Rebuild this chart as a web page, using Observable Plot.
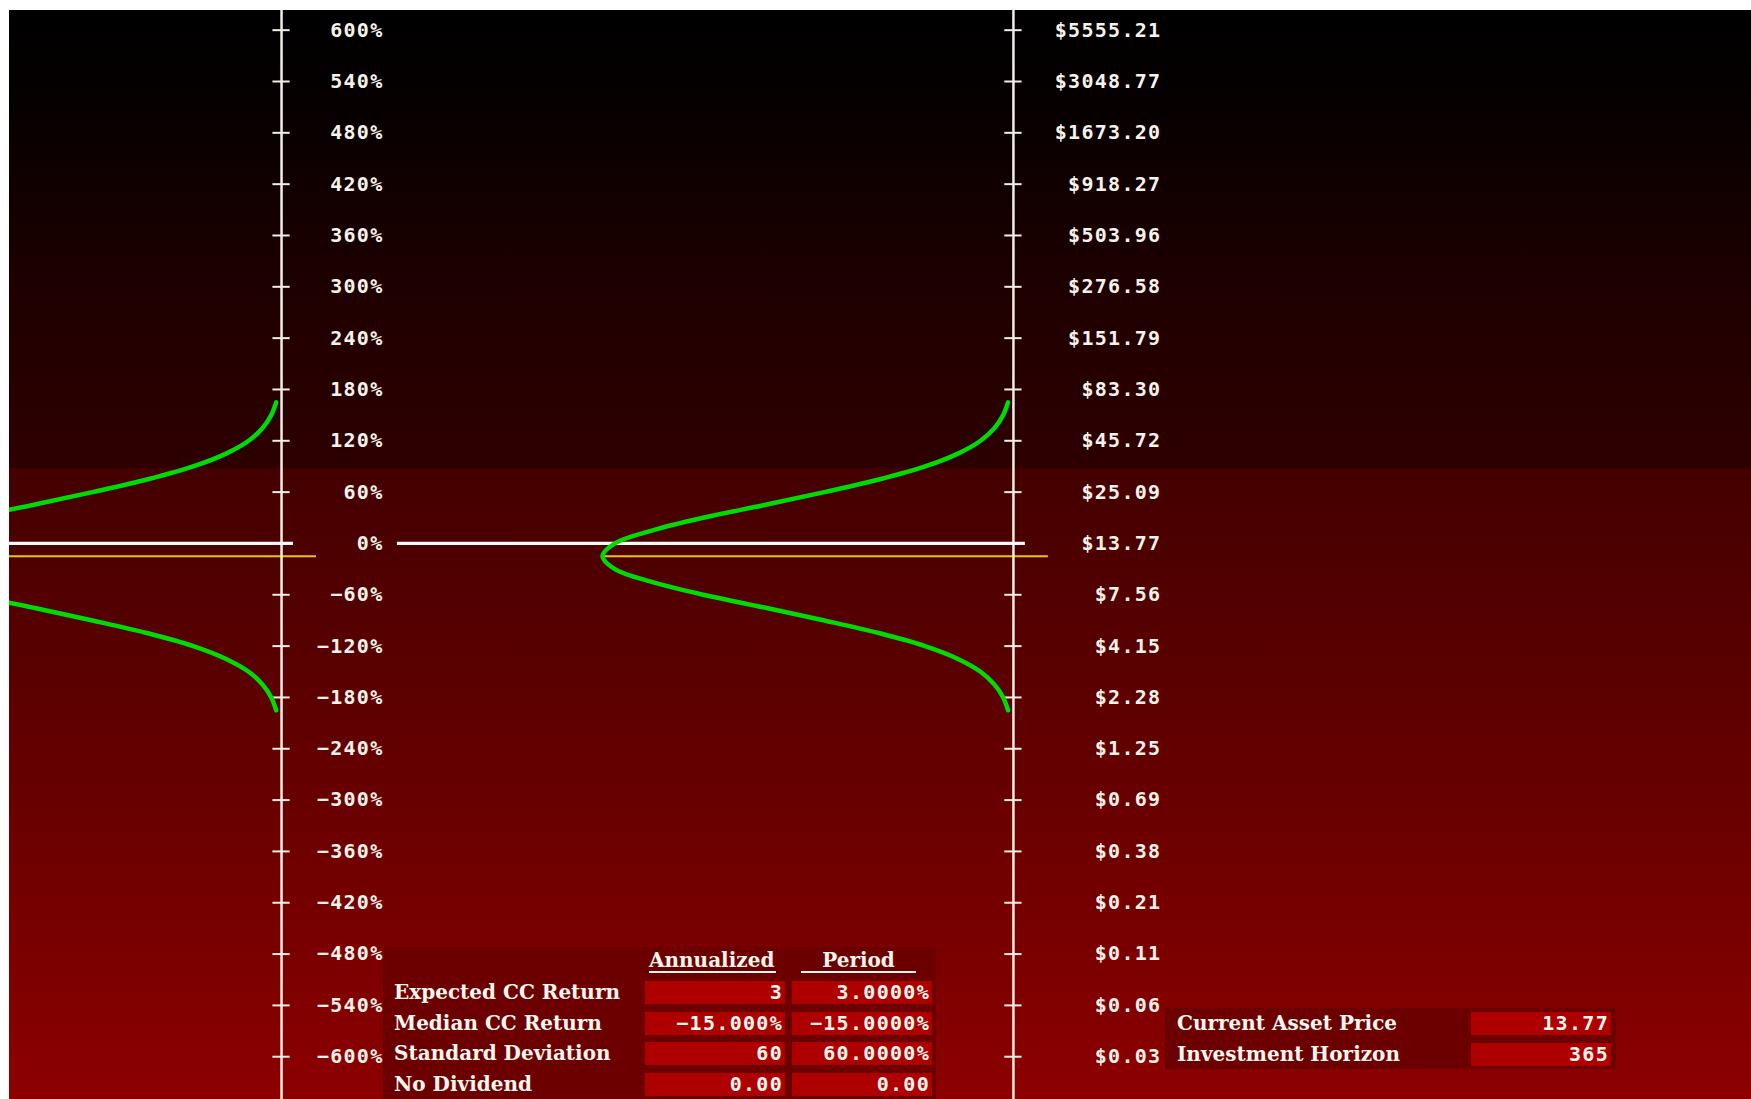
<!DOCTYPE html>
<html><head><meta charset="utf-8">
<script src="https://cdn.jsdelivr.net/npm/d3@7"></script>
<script src="https://cdn.jsdelivr.net/npm/@observablehq/plot@0.6"></script>
<style>
html, body { margin:0; padding:0; background:#fff; width:1751px; height:1099px; overflow:hidden; }
#chart { position:absolute; left:9px; top:10px; }
#chart svg text { letter-spacing:1.3px; }
.box { position:absolute; background:#6c0000; }
.lbl { position:absolute; font-family:"DejaVu Serif", serif; font-weight:bold; font-size:20px; color:#fbf6ee; line-height:24px; white-space:nowrap; }
.hdr { position:absolute; font-family:"DejaVu Serif", serif; font-weight:bold; font-size:20px; color:#fbf6ee; line-height:22px; height:22px; border-bottom:2px solid #fbf6ee; white-space:nowrap; }
.cell { position:absolute; background:#ae0000; height:23px; width:140px; font-family:"DejaVu Sans Mono", monospace; font-weight:bold; font-size:20px; letter-spacing:1.3px; color:#fbf6ee; text-align:right; line-height:23px; box-sizing:border-box; padding-right:2px; white-space:nowrap; }
</style></head><body>
<div id="chart"></div>
<div id="tables"></div>
<script>
// ---------- data ----------
const pctTicks = [600, 540, 480, 420, 360, 300, 240, 180, 120, 60, 0, -60, -120, -180, -240, -300, -360, -420, -480, -540, -600, -660];
const pctLabels = ["600%", "540%", "480%", "420%", "360%", "300%", "240%", "180%", "120%", "60%", "0%", "−60%", "−120%", "−180%", "−240%", "−300%", "−360%", "−420%", "−480%", "−540%", "−600%", "−660%"];
const priceLabels = ["$5555.21", "$3048.77", "$1673.20", "$918.27", "$503.96", "$276.58", "$151.79", "$83.30", "$45.72", "$25.09", "$13.77", "$7.56", "$4.15", "$2.28", "$1.25", "$0.69", "$0.38", "$0.21", "$0.11", "$0.06", "$0.03", "$0.02"];
// distribution curve: return level (%) and relative density (peak = 1)
const curvePct = [165, 150, 135, 120, 105, 90, 75, 60, 45, 30, 15, 0, -15, -30, -45, -60, -75, -90, -105, -120, -135, -150, -165, -180, -195];
const curveDensity = [0.013, 0.025, 0.046, 0.08, 0.135, 0.215, 0.325, 0.46, 0.605, 0.755, 0.88, 0.97, 1.0, 0.97, 0.88, 0.755, 0.605, 0.46, 0.325, 0.215, 0.135, 0.08, 0.046, 0.025, 0.013];
const zeroPct = 0;
const medianPct = -15;

const colHeaders = ["Annualized", "Period"];
const rowLabels = ["Expected CC Return", "Median CC Return", "Standard Deviation", "No Dividend"];
const annualized = ["3", "−15.000%", "60", "0.00"];
const period = ["3.0000%", "−15.0000%", "60.0000%", "0.00"];
const assetLabels = ["Current Asset Price", "Investment Horizon"];
const assetValues = ["13.77", "365"];

// ---------- layout ----------
const W = 1742, H = 1089;
const panels = [
  {id: 0, axis: -1.781, labels: pctLabels, labelDx: 102, zeroFrom: -1.499},
  {id: 1, axis: 0, labels: priceLabels, labelDx: 148, zeroFrom: -1.499}
];
const tickHalf = 0.021;

const tickRows = panels.flatMap(p => pctTicks.map((v, i) => ({panel: p.id, axis: p.axis, pct: v, label: p.labels[i]})));
const curveRows = panels.flatMap(p => curvePct.map((v, i) => ({panel: p.id, pct: v, x: p.axis - curveDensity[i]})));

const textStyle = {fill: "#f8f3ea", fontSize: 20, fontWeight: "bold", fontFamily: "DejaVu Sans Mono, monospace", textAnchor: "end"};

const chart = Plot.plot({
  width: W, height: H,
  marginTop: 0, marginBottom: 0, marginLeft: 0, marginRight: 0,
  x: {domain: [-2.443, 1.796], axis: null},
  y: {domain: [-650, 623], axis: null},
  style: {
    background: "linear-gradient(to bottom, #000000 0px, #070000 100px, #200000 290px, #2e0000 457px, #440000 459px, #660000 772px, #8d0000 1089px)",
    overflow: "hidden",
    maxWidth: "none"
  },
  marks: [
    Plot.ruleY(panels, {y: () => medianPct, x1: d => d.axis - 1.0, x2: d => d.axis + 0.085, stroke: "#e9c800", strokeWidth: 2}),
    Plot.ruleX(panels, {x: "axis", stroke: "#f2eee6", strokeWidth: 2.5}),
    Plot.ruleY(tickRows, {y: "pct", x1: d => d.axis - tickHalf, x2: d => d.axis + tickHalf, stroke: "#f2eee6", strokeWidth: 2}),
    Plot.ruleY(panels, {y: () => zeroPct, x1: d => d.axis + d.zeroFrom, x2: d => d.axis + 0.029, stroke: "#fbfbfb", strokeWidth: 3.3}),
    Plot.text(tickRows.filter(d => d.panel === 0), {x: "axis", y: "pct", text: "label", dx: panels[0].labelDx, ...textStyle}),
    Plot.text(tickRows.filter(d => d.panel === 1), {x: "axis", y: "pct", text: "label", dx: panels[1].labelDx, ...textStyle}),
    Plot.line(curveRows, {x: "x", y: "pct", z: "panel", stroke: "#00dc00", strokeWidth: 4.5, curve: "catmull-rom", strokeLinecap: "round"})
  ]
});
document.getElementById("chart").appendChild(chart);

// ---------- tables (overlay) ----------
const T = document.getElementById("tables");
function el(cls, css, text) {
  const d = document.createElement("div");
  d.className = cls;
  Object.assign(d.style, css);
  if (text != null) d.textContent = text;
  T.appendChild(d);
  return d;
}
el("box", {left: "383px", top: "947px", width: "553px", height: "152px"});
el("hdr", {left: "649px", top: "949px", width: "127px"}, colHeaders[0]);
el("hdr", {left: "801px", top: "949px", width: "115px", textAlign: "center"}, colHeaders[1]);
const rowTops = [981, 1012, 1042, 1073];
rowLabels.forEach((lab, i) => {
  el("lbl", {left: "394px", top: (rowTops[i] - 1) + "px"}, lab);
  el("cell", {left: "645px", top: rowTops[i] + "px"}, annualized[i]);
  el("cell", {left: "792px", top: rowTops[i] + "px"}, period[i]);
});
el("box", {left: "1165px", top: "1008px", width: "451px", height: "61px"});
const assetTops = [1012, 1043];
assetLabels.forEach((lab, i) => {
  el("lbl", {left: "1177px", top: (assetTops[i] - 1) + "px"}, lab);
  el("cell", {left: "1471px", top: assetTops[i] + "px"}, assetValues[i]);
});
</script>
</body></html>
